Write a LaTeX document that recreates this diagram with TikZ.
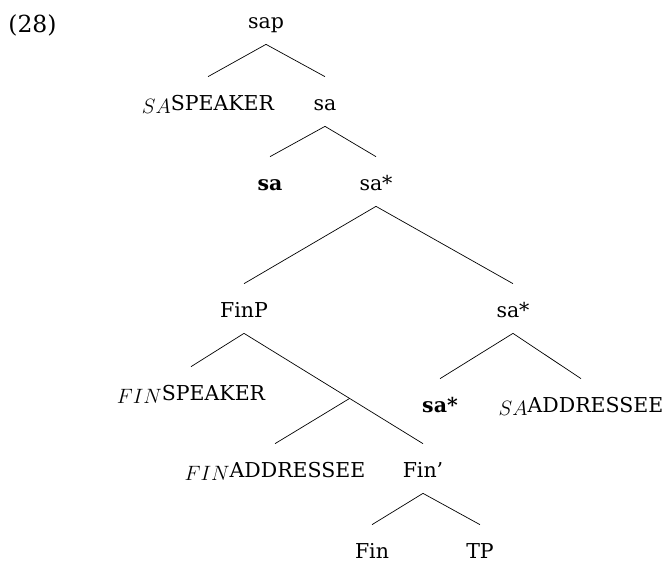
\documentclass[tikz,border=0pt]{standalone}
\usepackage{fontspec}
\setmainfont{DejaVu Serif}
\usepackage{tikz}
\usetikzlibrary{calc}

\newcommand{\lsub}[1]{\raisebox{-3pt}{\fontsize{20}{20}\selectfont$#1$}}

\begin{document}
\begin{tikzpicture}[x=1pt, y=1pt, line width=0.7pt,
    font=\fontsize{20.5}{24}\selectfont,
    lbl/.style={inner sep=0pt, text height=33pt, text depth=16pt, anchor=base},
    leaf/.style={lbl, text depth=0pt}]
            \useasboundingbox (0, 0) rectangle (666, -563);
            \node[anchor=base west, inner sep=0pt, font=\fontsize{23.5}{26}\selectfont] at (8, -32) (ex) {(28)};

            \node[lbl] at (266, -28)  (sap)    {sap};
            \node[lbl] at (208, -110) (sspk)   {\lsub{SA}SPEAKER};
            \node[lbl] at (325, -110) (sa)     {sa};
            \node[lbl] at (270, -190) (sab)    {\textbf{sa}};
            \node[lbl] at (376, -190) (sas)    {sa*};
            \node[lbl] at (244, -317) (finp)   {FinP};
            \node[lbl] at (513, -317) (sasr)   {sa*};
            \node[lbl] at (191, -400) (fspk)   {\lsub{FIN}SPEAKER};
            \node[lbl] at (440, -412) (sasb)   {\textbf{sa*}};
            \node[lbl] at (581, -412) (sadd)   {\lsub{SA}ADDRESSEE};
            \node[lbl] at (275, -477) (fadd)   {\lsub{FIN}ADDRESSEE};
            \node[lbl] at (423, -477) (finbar) {Fin'};
            \node[leaf] at (372, -558) (fin)   {Fin};
            \node[leaf] at (480, -558) (tp)    {TP};

            % unlabelled branching point on the FinP--Fin' line
            \coordinate (jn) at ($(finp.south)!0.59!(finbar.north)$);

            \draw (sap.south) -- (sspk.north);
            \draw (sap.south) -- (sa.north);
            \draw (sa.south) -- (sab.north);
            \draw (sa.south) -- (sas.north);
            \draw (sas.south) -- (finp.north);
            \draw (sas.south) -- (sasr.north);
            \draw (finp.south) -- (fspk.north);
            \draw (finp.south) -- (finbar.north);
            \draw (jn) -- (fadd.north);
            \draw (sasr.south) -- (sasb.north);
            \draw (sasr.south) -- (sadd.north);
            \draw (finbar.south) -- (fin.north);
            \draw (finbar.south) -- (tp.north);
\end{tikzpicture}
\end{document}
